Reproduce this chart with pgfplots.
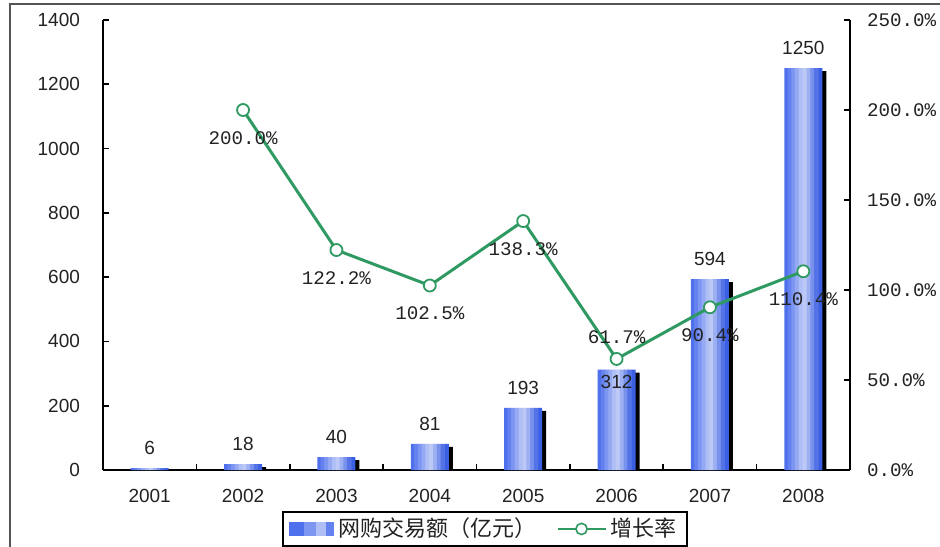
\documentclass[border=0pt]{standalone}
\usepackage{fontspec}
\setmainfont{Liberation Sans}
\newfontfamily\cjk{Noto Sans CJK SC}
\newfontfamily\mono{Liberation Mono}
\usepackage{pgfplots}
\usepackage{pgfplotstable}
\pgfplotsset{compat=1.18}
\definecolor{barblue}{HTML}{4468EC}
\definecolor{barlight}{HTML}{C2CEF8}
\definecolor{bardark}{HTML}{2E55E0}
\definecolor{linegreen}{HTML}{2E9A62}
\definecolor{framegray}{HTML}{555555}
\definecolor{txt}{HTML}{222222}
% colours of the ten slices that make the gradient of a bar
\colorlet{s0}{barlight!8!barblue}
\colorlet{s1}{barlight!25!barblue}
\colorlet{s2}{barlight!45!barblue}
\colorlet{s3}{barlight!65!barblue}
\colorlet{s4}{barlight!85!barblue}
\colorlet{s5}{barlight!95!barblue}
\colorlet{s6}{barlight!75!bardark}
\colorlet{s7}{barlight!50!bardark}
\colorlet{s8}{barlight!25!bardark}
\colorlet{s9}{barlight!8!bardark}

\pgfplotstableread{
x  y
0  6
1  18
2  40
3  81
4  193
5  312
6  594
7  1250
}\amount

\pgfplotstableread{
x  y
1  200.0
2  122.2
3  102.5
4  138.3
5  61.7
6  90.4
7  110.4
}\growth

\begin{document}
\begin{tikzpicture}
\begin{axis}[
  at={(51.5pt,38pt)}, anchor=south west,
  scale only axis, width=373.5pt, height=225pt,
  ybar, bar width=2.5pt,
  xmin=-0.5, xmax=7.5, ymin=0, ymax=1400,
  axis lines*=left,
  axis line style={line width=0.8pt, black},
  tick align=inside,
  xtick={0,...,7},
  xticklabels={2001,2002,2003,2004,2005,2006,2007,2008},
  major x tick style={draw=none},
  minor xtick={0.5,1.5,...,6.5},
  minor tick length=3pt,
  minor x tick style={line width=0.8pt, black},
  ytick={0,200,...,1400},
  major tick length=3pt,
  major y tick style={line width=0.8pt, black},
  /pgf/number format/assume math mode=true,
  yticklabel style={font=\fontsize{9.5}{10}\selectfont, text=txt, xshift=-8pt},
  xticklabel style={font=\fontsize{9.5}{10}\selectfont, text=txt, yshift=-6pt},
  scaled y ticks=false,
  /pgf/number format/1000 sep={},
]
% shadow
\addplot[fill=black, draw=none, bar width=19pt, bar shift=2pt, yshift=-1.5pt] table {\amount};
% bars, in ten overlapping slices from left to right
\addplot[fill=s0, draw=none, bar shift=-8.55pt, bar width=1.9pt] table {\amount};
\addplot[fill=s1, draw=none, bar shift=-6.65pt] table {\amount};
\addplot[fill=s2, draw=none, bar shift=-4.75pt] table {\amount};
\addplot[fill=s3, draw=none, bar shift=-2.85pt] table {\amount};
\addplot[fill=s4, draw=none, bar shift=-0.95pt] table {\amount};
\addplot[fill=s5, draw=none, bar shift=0.95pt] table {\amount};
\addplot[fill=s6, draw=none, bar shift=2.85pt] table {\amount};
\addplot[fill=s7, draw=none, bar shift=4.75pt] table {\amount};
\addplot[fill=s8, draw=none, bar shift=6.65pt] table {\amount};
\addplot[fill=s9, draw=none, bar shift=8.55pt, bar width=1.9pt] table {\amount};
% value labels
\addplot[draw=none, fill=none, bar shift=0pt, nodes near coords,
  point meta=explicit symbolic,
  every node near coord/.append style={anchor=south, yshift=3pt, text=txt, font=\fontsize{9.5}{10}\selectfont}]
  coordinates {
  (0,6) [6] (1,18) [18] (2,40) [40] (3,81) [81] (4,193) [193]
  (6,594) [594] (7,1250) [1250]
};
\addplot[draw=none, fill=none, bar shift=0pt, nodes near coords,
  point meta=explicit symbolic,
  every node near coord/.append style={anchor=center, yshift=-6pt, text=txt, font=\fontsize{9.5}{10}\selectfont}]
  coordinates {(5,312) [312]};
\end{axis}

\begin{axis}[
  at={(51.5pt,38pt)}, anchor=south west,
  scale only axis, width=373.5pt, height=225pt,
  xmin=-0.5, xmax=7.5, ymin=0, ymax=250,
  axis x line=none,
  axis y line*=right,
  axis line style={line width=0.8pt, black},
  tick align=inside,
  major tick length=3pt,
  major y tick style={line width=0.8pt, black},
  ytick={0,50,...,250},
  yticklabels={0.0\%,50.0\%,100.0\%,150.0\%,200.0\%,250.0\%},
  yticklabel style={font=\mono\fontsize{9.6}{11}\selectfont, text=txt, xshift=5pt},
  legend style={at={(0.511,-0.131)}, anchor=center, draw=black, line width=0.8pt,
    font=\cjk\fontsize{11}{12}\selectfont, text=txt, inner xsep=3pt, inner ysep=1pt,
    /tikz/every even column/.append style={column sep=8pt}},
  legend columns=2,
]
\addlegendimage{legend image code/.code={
  \fill[s0] (0pt,-3pt) rectangle (8pt,3pt);
  \fill[s2] (7.8pt,-3pt) rectangle (14pt,3pt);
  \fill[s4] (13.8pt,-3pt) rectangle (19pt,3pt);
  \fill[s1] (18.8pt,-3pt) rectangle (22pt,3pt);}}
\addlegendentry{网购交易额（亿元）}
\addlegendimage{legend image code/.code={\draw[linegreen, line width=1.2pt] (0pt,0pt) -- (24pt,0pt); \draw[linegreen, fill=white, line width=0.8pt] (12pt,0pt) circle (2.8pt);}}
\addlegendentry{增长率}

\addplot[linegreen, line width=1.5pt, mark=*, mark size=3pt,
  mark options={fill=white, draw=linegreen, line width=0.9pt}, forget plot] table {\growth};
\addplot[draw=none, mark=none, forget plot, nodes near coords,
  point meta=explicit symbolic,
  every node near coord/.append style={anchor=center, yshift=-14pt, text=txt, font=\mono\fontsize{9.6}{11}\selectfont}]
  coordinates {
  (1,200) [200.0\%] (2,122.2) [122.2\%] (3,102.5) [102.5\%] (4,138.3) [138.3\%]
  (6,90.4) [90.4\%] (7,110.4) [110.4\%]
};
\addplot[draw=none, mark=none, forget plot, nodes near coords,
  point meta=explicit symbolic,
  every node near coord/.append style={anchor=center, yshift=11pt, text=txt, font=\mono\fontsize{9.6}{11}\selectfont}]
  coordinates {
  (5,61.7) [61.7\%]
};
\end{axis}

\draw[framegray, line width=1pt] (5pt,-20pt) -- (5pt,271pt) -- (520pt,271pt);
\pgfresetboundingbox
\useasboundingbox (0,0) rectangle (470pt,273pt);
\end{tikzpicture}
\end{document}
